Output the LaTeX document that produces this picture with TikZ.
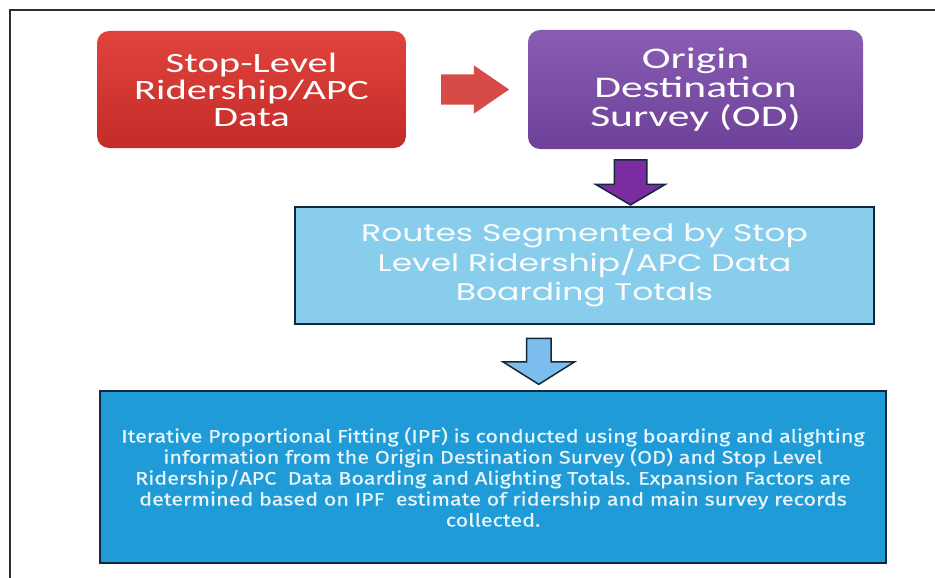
\documentclass[tikz,border=0pt]{standalone}
\usepackage{fontspec}
\newfontfamily\boxfont{Carlito}[FakeStretch=1.45]
\newfontfamily\segfont{Poppins}[FakeStretch=1.375]
\newfontfamily\ipffont{Fira Sans}[FakeStretch=1.2, FakeBold=0.6]
\usetikzlibrary{%
        calc,
        positioning,
        shapes.arrows
    }
\definecolor{redtop}{HTML}{E0433C}
\definecolor{redbottom}{HTML}{C42C28}
\definecolor{purpletop}{HTML}{8A5DB3}
\definecolor{purplebottom}{HTML}{6C4197}
\definecolor{redarrow}{HTML}{D64B47}
\definecolor{purplearrow}{HTML}{7B2CA0}
\definecolor{lightblue}{HTML}{88CDEB}
\definecolor{deepblue}{HTML}{1F9BD7}
\definecolor{outline}{HTML}{13283B}
\definecolor{frame}{HTML}{2E2E2E}
\tikzset{%
    source/.style={%
        rounded corners=12pt, inner sep=0pt, align=center, text=white,
        font=\boxfont\fontsize{28}{27}\selectfont
    },
    step box/.style={%
        draw=outline, line width=2pt, inner sep=0pt, align=center
    },
    block arrow/.style={%
        single arrow, inner xsep=0pt, single arrow head indent=0pt
    }
}

\begin{document}
\begin{tikzpicture}[x=1pt, y=-1pt]

    \useasboundingbox (0, 0) rectangle (935, 578);
    \draw[frame, line width=2pt] (10, 578) -- (10, 10) -- (935, 10);

    %%%%%%%%%%%%
    % Inputs
    \node[source, top color=redtop, bottom color=redbottom,
        minimum width=309pt, minimum height=117pt] (stop) at (251.5, 89.5)
        {Stop-Level\\Ridership/APC\\Data};
    \node[source, top color=purpletop, bottom color=purplebottom,
        minimum width=335pt, minimum height=119pt,
        font=\boxfont\fontsize{30}{29}\selectfont] (od) at (695.5, 89.5)
        {Origin\\Destination\\Survey (OD)};

    %%%%%%%%%%%%
    % Steps
    \node[step box, fill=lightblue, text=white!94!lightblue,
        minimum width=579pt, minimum height=117pt,
        font=\segfont\fontsize{24}{28.5}\selectfont] (seg) at (584.5, 265.5)
        {Routes Segmented by Stop\\Level Ridership/APC Data\\Boarding Totals};
    \node[step box, fill=deepblue, text=white!90!deepblue,
        minimum width=786pt, minimum height=172pt,
        font=\ipffont\fontsize{18}{21}\selectfont] (ipf) at (493, 477)
        {%
            Iterative Proportional Fitting (IPF) is conducted using boarding
            and alighting\\
            information from the Origin Destination Survey (OD) and Stop
            Level\\
            Ridership/APC\ \ Data Boarding and Alighting Totals. Expansion
            Factors are\\
            determined based on IPF\ \ estimate of ridership and main survey
            records\\
            collected.%
        };

    %%%%%%%%%%%%
    % Arrows
    \node[block arrow, fill=redarrow, minimum height=68pt, inner ysep=15pt,
        single arrow head extend=9pt, single arrow tip angle=68.9]
        (stop-od) at ([xshift=-3pt] $(stop.east)!0.5!(od.west)$) {};
    \node[block arrow, fill=purplearrow, draw=outline, line width=1.5pt,
        rotate=-90, minimum height=45pt, inner ysep=15.5pt,
        single arrow head extend=18.5pt, single arrow tip angle=119]
        (od-seg) at ([xshift=-9.5pt] $(od.south)!0.5!(seg.north)$) {};
    \node[block arrow, fill=lightblue!92!blue, draw=outline, line width=1.5pt,
        rotate=-90, minimum height=46pt, inner ysep=11.5pt,
        single arrow head extend=23.5pt, single arrow tip angle=115.7]
        (seg-ipf) at ($(seg.south)!0.5!(ipf.north)$) {};

\end{tikzpicture}
\end{document}
